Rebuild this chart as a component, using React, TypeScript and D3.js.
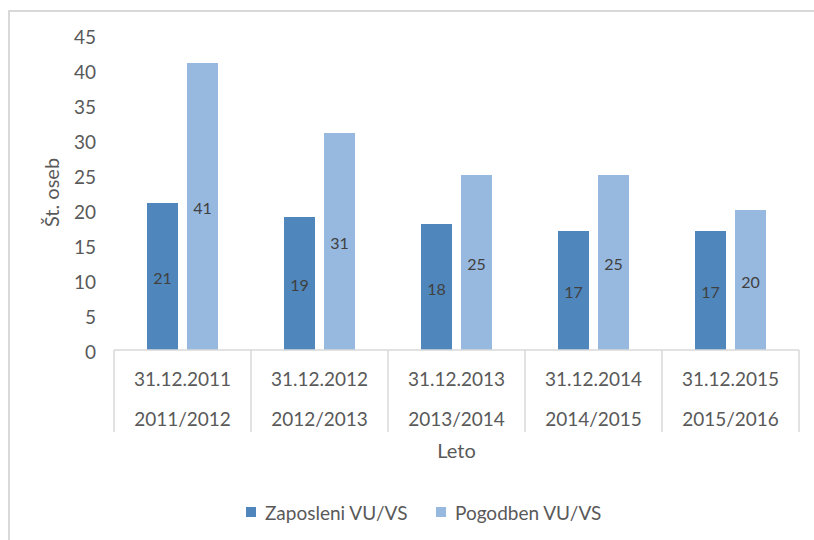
import React, { useRef, useEffect } from 'react';
import * as d3 from 'd3';

const dates = ['31.12.2011', '31.12.2012', '31.12.2013', '31.12.2014', '31.12.2015'];
const years = ['2011/2012', '2012/2013', '2013/2014', '2014/2015', '2015/2016'];
const seriesNames = ['Zaposleni VU/VS', 'Pogodben VU/VS'];
const zaposleni = [21, 19, 18, 17, 17];
const pogodben = [41, 31, 25, 25, 20];
const yTicks = [0, 5, 10, 15, 20, 25, 30, 35, 40, 45];

const colors = ['#4f87bc', '#97b9e0'];
const font = 'Lato, "Open Sans", sans-serif';

const App: React.FC = () => {
  const svgRef = useRef<SVGSVGElement>(null);

  useEffect(() => {
    if (!svgRef.current) return;
    const svg = d3.select(svgRef.current);
    svg.selectAll('*').remove();

    const width = 814;
    const height = 540;
    const margin = { top: 35, left: 114, right: 15, bottom: 190 };

    // outer chart border (right and bottom edges fall outside the picture)
    svg.append('rect')
      .attr('x', 9).attr('y', 11)
      .attr('width', width + 20).attr('height', height + 20)
      .attr('fill', 'white')
      .attr('stroke', '#d9d9d9')
      .attr('stroke-width', 2);

    const x = d3.scaleBand<string>()
      .domain(dates)
      .range([margin.left, width - margin.right]);

    const inner = d3.scaleBand<string>()
      .domain(seriesNames)
      .range([0, x.bandwidth()])
      .paddingInner(0.225)
      .paddingOuter(0.825);

    const y = d3.scaleLinear()
      .domain([0, 45])
      .range([height - margin.bottom, margin.top]);

    const y0 = y(0);

    // y tick labels
    svg.append('g')
      .selectAll('text')
      .data(yTicks)
      .join('text')
      .attr('x', 96)
      .attr('y', d => y(d) + 1)
      .attr('text-anchor', 'end')
      .attr('dominant-baseline', 'central')
      .style('font-family', font)
      .style('font-size', '19px')
      .style('fill', '#595959')
      .text(d => d);

    // y axis title
    svg.append('text')
      .attr('transform', `translate(51,${(y(0) + y(45)) / 2}) rotate(-90)`)
      .attr('text-anchor', 'middle')
      .attr('dominant-baseline', 'central')
      .style('font-family', font)
      .style('font-size', '20px')
      .style('fill', '#595959')
      .text('Št. oseb');

    // bars
    const series = [zaposleni, pogodben];
    series.forEach((values, si) => {
      const g = svg.append('g');
      g.selectAll('rect')
        .data(values)
        .join('rect')
        .attr('x', (d, i) => x(dates[i])! + inner(seriesNames[si])!)
        .attr('y', d => y(d))
        .attr('width', inner.bandwidth())
        .attr('height', d => y0 - y(d))
        .attr('fill', colors[si]);

      g.selectAll('text')
        .data(values)
        .join('text')
        .attr('x', (d, i) => x(dates[i])! + inner(seriesNames[si])! + inner.bandwidth() / 2)
        .attr('y', d => (y(d) + y0) / 2 + 1)
        .attr('text-anchor', 'middle')
        .attr('dominant-baseline', 'central')
        .style('font-family', font)
        .style('font-size', '16px')
        .style('fill', '#404040')
        .text(d => d);
    });

    // category axis
    const axisColor = '#d9d9d9';
    svg.append('line')
      .attr('x1', x.range()[0]).attr('x2', x.range()[1])
      .attr('y1', y0).attr('y2', y0)
      .attr('stroke', axisColor).attr('stroke-width', 1.5);

    const bounds = [...dates.map(d => x(d)!), x.range()[1]];
    svg.append('g')
      .selectAll('line')
      .data(bounds)
      .join('line')
      .attr('x1', d => d).attr('x2', d => d)
      .attr('y1', y0).attr('y2', y0 + 82)
      .attr('stroke', axisColor).attr('stroke-width', 1.5);

    const labels = svg.append('g');
    dates.forEach((d, i) => {
      const cx = x(d)! + x.bandwidth() / 2;
      labels.append('text')
        .attr('x', cx).attr('y', y0 + 28)
        .attr('text-anchor', 'middle')
        .attr('dominant-baseline', 'central')
        .style('font-family', font)
        .style('font-size', '19px')
        .style('fill', '#595959')
        .text(d);
      labels.append('text')
        .attr('x', cx).attr('y', y0 + 68)
        .attr('text-anchor', 'middle')
        .attr('dominant-baseline', 'central')
        .style('font-family', font)
        .style('font-size', '19px')
        .style('fill', '#595959')
        .text(years[i]);
    });

    // x axis title
    svg.append('text')
      .attr('x', (x.range()[0] + x.range()[1]) / 2)
      .attr('y', 450)
      .attr('text-anchor', 'middle')
      .attr('dominant-baseline', 'central')
      .style('font-family', font)
      .style('font-size', '20px')
      .style('fill', '#595959')
      .text('Leto');

    // legend
    const legendX = [246, 436];
    const legend = svg.append('g');
    seriesNames.forEach((name, i) => {
      legend.append('rect')
        .attr('x', legendX[i]).attr('y', 507)
        .attr('width', 10).attr('height', 10)
        .attr('fill', colors[i]);
      legend.append('text')
        .attr('x', legendX[i] + 19).attr('y', 512)
        .attr('dominant-baseline', 'central')
        .style('font-family', font)
        .style('font-size', '19px')
        .style('fill', '#595959')
        .text(name);
    });
  }, []);

  return (
    <svg
      ref={svgRef}
      width={814}
      height={540}
      style={{ position: 'absolute', left: 0, top: 0, background: 'white' }}
    />
  );
};

export default App;
